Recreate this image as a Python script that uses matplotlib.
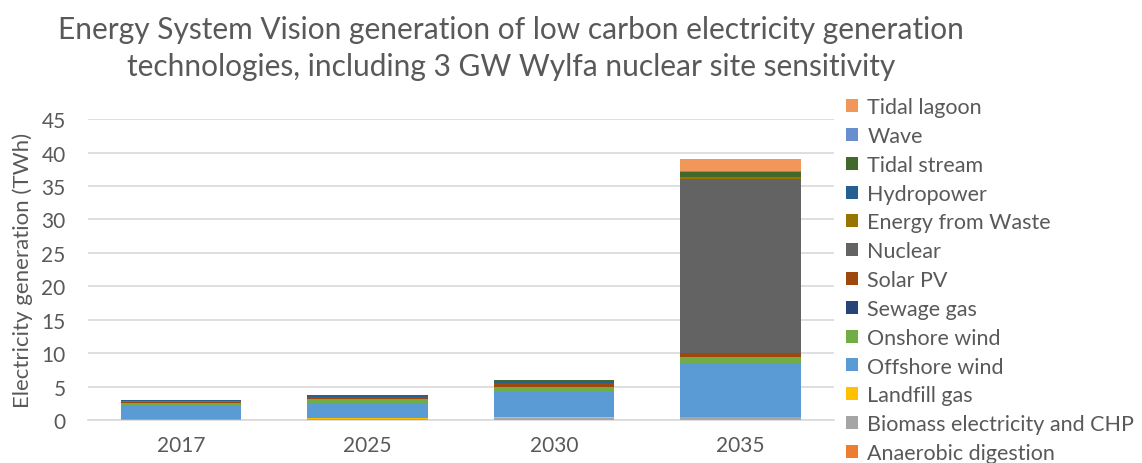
import numpy as np
import matplotlib
matplotlib.use('Agg')
import matplotlib.pyplot as plt

plt.rcParams['font.family'] = ['Lato', 'DejaVu Sans']

years = ['2017', '2025', '2030', '2035']

# stacked bottom -> top
series = ['Anaerobic digestion', 'Biomass electricity and CHP', 'Landfill gas', 'Offshore wind',
          'Onshore wind', 'Sewage gas', 'Solar PV', 'Nuclear', 'Energy from Waste',
          'Hydropower', 'Tidal stream', 'Wave', 'Tidal lagoon']
anaerobic = [0.02, 0.02, 0.02, 0.02]
biomass = [0.10, 0.20, 0.35, 0.45]
landfill = [0.03, 0.01, 0.01, 0.01]
offshore = [2.10, 2.30, 3.80, 8.00]
onshore = [0.30, 0.55, 0.75, 0.90]
sewage = [0.02, 0.02, 0.02, 0.02]
solar = [0.15, 0.30, 0.55, 0.60]
nuclear = [0.0, 0.0, 0.0, 26.1]
efw = [0.05, 0.10, 0.10, 0.20]
hydro = [0.15, 0.10, 0.10, 0.10]
tidal_stream = [0.0, 0.15, 0.25, 0.75]
wave = [0.0, 0.0, 0.0, 0.10]
tidal_lagoon = [0.0, 0.0, 0.0, 1.85]
values = [anaerobic, biomass, landfill, offshore, onshore, sewage, solar, nuclear,
          efw, hydro, tidal_stream, wave, tidal_lagoon]
colors = ['#ED7D31', '#A5A5A5', '#FFC000', '#5B9BD5', '#70AD47', '#264478', '#9E480E',
          '#636363', '#997300', '#255E91', '#43682B', '#698ED0', '#F1975A']

grey = '#595959'
fig = plt.figure(figsize=(11.42, 4.64), dpi=100)
ax = fig.add_axes([0.077, 0.0927, 0.653, 0.6483])

x = np.arange(len(years))
bottom = np.zeros(len(years))
handles = []
for name, vals, c in zip(series, values, colors):
    b = ax.bar(x, vals, width=0.645, bottom=bottom, color=c, label=name, zorder=3)
    bottom += np.array(vals)
    handles.append(b)

ax.set_xlim(-0.5, len(years) - 0.5)
ax.set_ylim(0, 45)
ax.set_yticks(np.arange(0, 46, 5))
ax.set_xticks(x)
ax.set_xticklabels(years)
ax.grid(axis='y', color='#D9D9D9', linewidth=1.2, zorder=0)
for s in ['top', 'right', 'left']:
    ax.spines[s].set_visible(False)
ax.spines['bottom'].set_color('#D9D9D9')
ax.spines['bottom'].set_linewidth(1.2)
ax.tick_params(axis='both', length=0, colors=grey, labelsize=15)
ax.tick_params(axis='x', pad=11)
ax.tick_params(axis='y', pad=16)
ax.set_ylabel('Electricity generation (TWh)', color=grey, fontsize=16, labelpad=6)

fig.suptitle('Energy System Vision generation of low carbon electricity generation\n'
             'technologies, including 3 GW Wylfa nuclear site sensitivity',
             x=0.4475, y=0.966, color=grey, fontsize=21.5, linespacing=1.42)

leg = fig.legend(handles[::-1], series[::-1], loc='upper left', bbox_to_anchor=(0.733, 0.807),
                 frameon=False, fontsize=15.5, handlelength=0.55, handleheight=0.55,
                 handletextpad=0.45, labelspacing=0.41, borderaxespad=0)
for t in leg.get_texts():
    t.set_color(grey)

fig.savefig('out.png', dpi=100)
